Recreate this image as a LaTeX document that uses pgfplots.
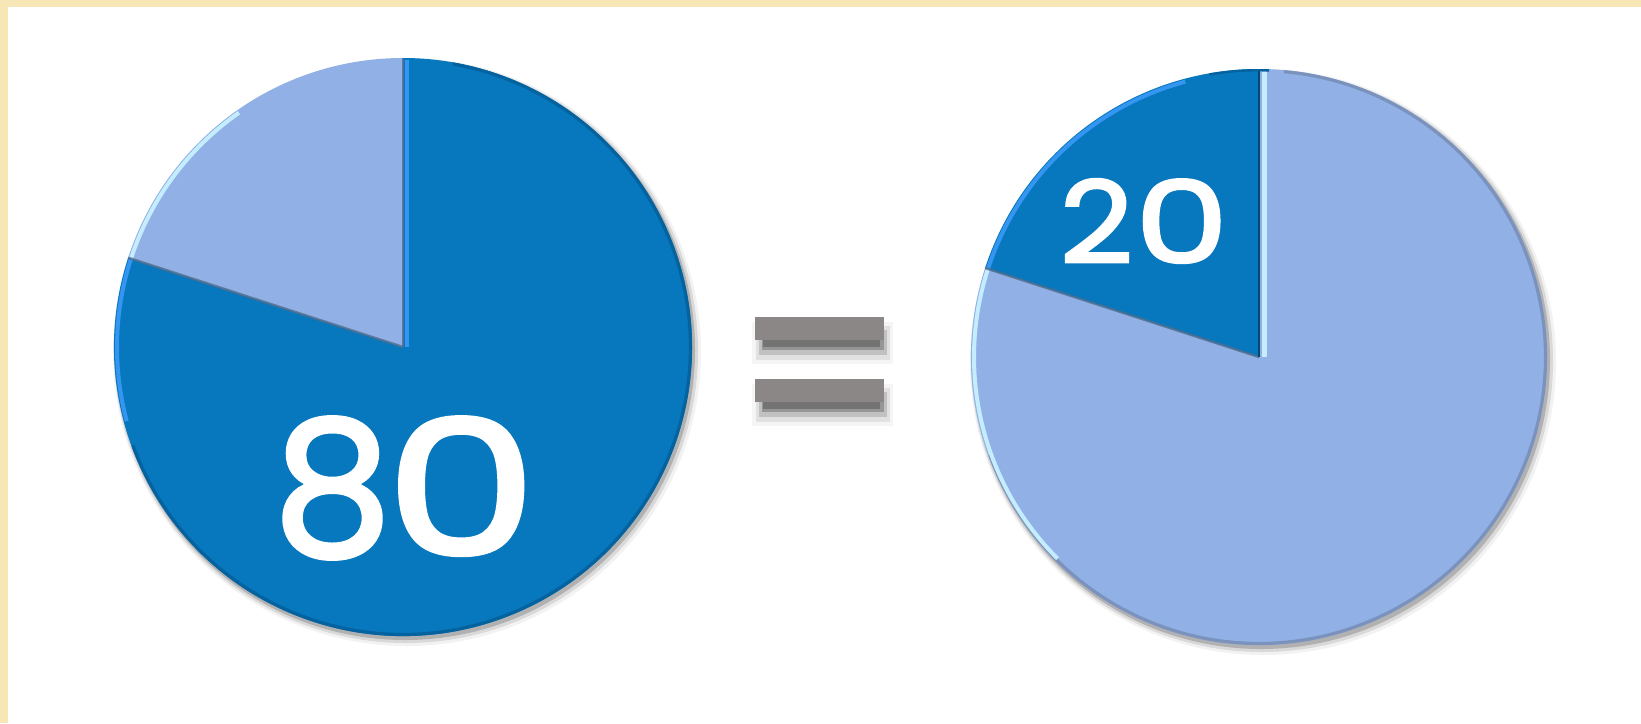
\documentclass[border=0pt]{standalone}
\usepackage{pgfplots}
\pgfplotsset{compat=1.18}
\usepackage{pgfplotstable}
\usepackage{graphicx}
\usepackage{fontspec}
\setmainfont{Poppins}
\newfontfamily\numfont{Poppins}[FakeBold=2.2]

\definecolor{darkb}{HTML}{0778BE}
\definecolor{lightb}{HTML}{91B1E6}
\definecolor{cream}{HTML}{F8E7B6}
\definecolor{barg}{HTML}{8B8787}
\definecolor{brightb}{HTML}{3596F2}
\definecolor{palec}{HTML}{C4EEFF}
\definecolor{rim}{HTML}{4C6C8E}
\definecolor{darkrim}{HTML}{04629E}
\definecolor{lightrim}{HTML}{7A92BC}

% shares of each pie (percent)
\pgfplotstableread{
slice value
dark  80
light 20
}\leftpie
\pgfplotstableread{
slice value
dark  20
light 80
}\rightpie

\pgfplotstablegetelem{0}{value}\of\leftpie  \edef\Ldark{\pgfplotsretval}
\pgfplotstablegetelem{1}{value}\of\leftpie  \edef\Llight{\pgfplotsretval}
\pgfplotstablegetelem{0}{value}\of\rightpie \edef\Rdark{\pgfplotsretval}
\pgfplotstablegetelem{1}{value}\of\rightpie \edef\Rlight{\pgfplotsretval}

\pgfmathsetmacro{\Lsplit}{90+3.6*\Llight}
\pgfmathsetmacro{\Rsplit}{90+3.6*\Rdark}

\begin{document}
\begin{tikzpicture}
\begin{axis}[width=820.5pt, height=361.5pt, scale only axis,
  xmin=0, xmax=1641, ymin=0, ymax=723, y dir=reverse,
  hide axis, clip=false]
\addplot[draw=none] coordinates {(0,0) (1641,723)};

% background and frame
\fill[cream] (axis cs:0,0) rectangle (axis cs:1641,723);
\fill[white] (axis cs:8,7) rectangle (axis cs:1641,723);

% ---------- left pie ----------
\fill[black,opacity=0.05] (axis cs:407,352) circle[radius=147pt];
\fill[black,opacity=0.10] (axis cs:406,351) circle[radius=146pt];
\fill[black,opacity=0.18] (axis cs:405,350) circle[radius=145pt];
\fill[darkb] (axis cs:403,347) -- ++(\Lsplit:144.5pt) arc[start angle=\Lsplit, end angle=450, radius=144.5pt] -- cycle;
\fill[lightb] (axis cs:403,347) -- ++(90:144.5pt) arc[start angle=90, end angle=\Lsplit, radius=144.5pt] -- cycle;
\draw[darkrim,line width=1.6pt] (axis cs:403,347) ++(-160:143.7pt) arc[start angle=-160, end angle=80, radius=143.7pt];
\draw[palec,line width=2pt] (axis cs:403,347) ++(125:143pt) arc[start angle=125, end angle=\Lsplit, radius=143pt];
\draw[brightb,line width=2pt] (axis cs:403,347) ++(\Lsplit:143pt) arc[start angle=\Lsplit, end angle=195, radius=143pt];
\draw[rim,opacity=0.8,line width=1.2pt] (axis cs:403,347) -- ++(\Lsplit:144.5pt);
\draw[brightb,line width=2pt] (axis cs:407,347) -- (axis cs:407,60);
\draw[rim,opacity=0.8,line width=0.8pt] (axis cs:403,347) -- (axis cs:403,58);
\node[text=white, font=\numfont\fontsize{94}{94}\selectfont, inner sep=0pt] at (axis cs:405,488) {8\hspace{-3pt}\scalebox{1.28}[1]{0}};

% ---------- equals sign ----------
\fill[black,opacity=0.04] (axis cs:752,322) rectangle (axis cs:893,364);
\fill[black,opacity=0.08] (axis cs:756,326) rectangle (axis cs:890,360);
\fill[black,opacity=0.14] (axis cs:759,330) rectangle (axis cs:887,355);
\fill[black,opacity=0.22] (axis cs:762,334) rectangle (axis cs:884,350);
\fill[gray!90!black] (axis cs:763,338) rectangle (axis cs:880,347);
\fill[barg] (axis cs:755,317) rectangle (axis cs:884,340);
\fill[black,opacity=0.04] (axis cs:752,384) rectangle (axis cs:893,426);
\fill[black,opacity=0.08] (axis cs:756,388) rectangle (axis cs:890,422);
\fill[black,opacity=0.14] (axis cs:759,392) rectangle (axis cs:887,417);
\fill[black,opacity=0.22] (axis cs:762,396) rectangle (axis cs:884,412);
\fill[gray!90!black] (axis cs:763,400) rectangle (axis cs:880,409);
\fill[barg] (axis cs:755,379) rectangle (axis cs:884,402);

% ---------- right pie ----------
\fill[black,opacity=0.05] (axis cs:1263,362) circle[radius=146.5pt];
\fill[black,opacity=0.10] (axis cs:1262,361) circle[radius=145.5pt];
\fill[black,opacity=0.18] (axis cs:1261,360) circle[radius=144.5pt];
\fill[lightb] (axis cs:1259,357) -- ++(\Rsplit:144pt) arc[start angle=\Rsplit, end angle=450, radius=144pt] -- cycle;
\fill[darkb] (axis cs:1259,357) -- ++(90:144pt) arc[start angle=90, end angle=\Rsplit, radius=144pt] -- cycle;
\draw[lightrim,line width=1.6pt] (axis cs:1259,357) ++(-160:143.2pt) arc[start angle=-160, end angle=85, radius=143.2pt];
\draw[darkrim,line width=1.2pt] (axis cs:1259,357) ++(88:143.4pt) arc[start angle=88, end angle=100, radius=143.4pt];
\draw[brightb,line width=2pt] (axis cs:1259,357) ++(105:142.5pt) arc[start angle=105, end angle=\Rsplit, radius=142.5pt];
\draw[palec,line width=2pt] (axis cs:1259,357) ++(\Rsplit:142.5pt) arc[start angle=\Rsplit, end angle=225, radius=142.5pt];
\draw[rim,opacity=0.8,line width=1.2pt] (axis cs:1259,357) -- ++(\Rsplit:144pt);
\draw[palec,line width=2.5pt] (axis cs:1264,357) -- (axis cs:1264,72);
\draw[black!40!darkb,line width=1pt] (axis cs:1259,357) -- (axis cs:1259,71);
\node[text=white, font=\numfont\fontsize{57}{57}\selectfont, inner sep=0pt] at (axis cs:1144,221) {\scalebox{1.12}[1]{2}\hspace{1pt}\scalebox{1.3}[1]{0}};
\end{axis}
\end{tikzpicture}
\end{document}
